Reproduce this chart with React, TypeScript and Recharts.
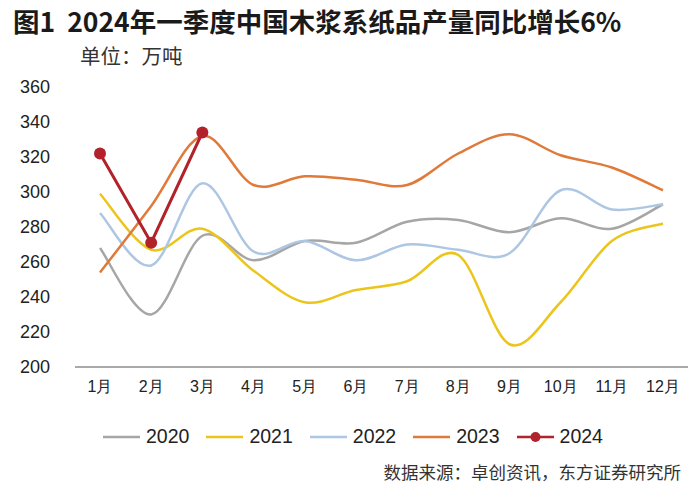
import React from 'react';
import { LineChart, Line, XAxis, YAxis } from 'recharts';

const months = ['1月', '2月', '3月', '4月', '5月', '6月', '7月', '8月', '9月', '10月', '11月', '12月'];
const y2020 = [268, 230, 275, 261, 272, 271, 283, 284, 277, 285, 279, 293];
const y2021 = [299, 267, 279, 255, 237, 244, 249, 264, 213, 237, 272, 282];
const y2022 = [288, 258, 305, 266, 272, 261, 270, 267, 265, 301, 290, 293];
const y2023 = [254, 292, 332, 304, 309, 307, 304, 322, 333, 321, 314, 301];
const y2024 = [322, 271, 334];
const yTicks = [200, 220, 240, 260, 280, 300, 320, 340, 360];

const series = [
  { key: '2020', values: y2020, color: '#a6a6a6' },
  { key: '2021', values: y2021, color: '#ecc51c' },
  { key: '2022', values: y2022, color: '#adc6e3' },
  { key: '2023', values: y2023, color: '#df7a3a' },
  { key: '2024', values: y2024, color: '#b2222b' },
];

const data = months.map((m, i) => {
  const row: Record<string, any> = { month: m };
  series.forEach((s) => {
    row[s.key] = s.values[i];
  });
  return row;
});

// Excel-like smoothing (uniform Catmull-Rom)
const smoothCurve = (context: any) => {
  let pts: number[][] = [];
  return {
    areaStart() {},
    areaEnd() {},
    lineStart() {
      pts = [];
    },
    point(x: number, y: number) {
      pts.push([+x, +y]);
    },
    lineEnd() {
      const n = pts.length;
      if (!n) return;
      context.moveTo(pts[0][0], pts[0][1]);
      for (let i = 0; i < n - 1; i++) {
        const p0 = pts[i - 1] || pts[i];
        const p1 = pts[i];
        const p2 = pts[i + 1];
        const p3 = pts[i + 2] || p2;
        context.bezierCurveTo(
          p1[0] + (p2[0] - p0[0]) / 6,
          p1[1] + (p2[1] - p0[1]) / 6,
          p2[0] - (p3[0] - p1[0]) / 6,
          p2[1] - (p3[1] - p1[1]) / 6,
          p2[0],
          p2[1]
        );
      }
    },
  };
};

const font = '"Liberation Sans", Arial, sans-serif';
const cjk = '"Noto Sans CJK SC", "Noto Sans", sans-serif';

export default function App() {
  return (
    <div style={{ position: 'absolute', left: 0, top: 0, width: 700, height: 497, background: '#fff', overflow: 'hidden' }}>
      <div style={{ position: 'absolute', left: 13, top: 3, lineHeight: '36px', fontFamily: cjk, fontWeight: 700, fontSize: 26.5, color: '#1a1a1a', whiteSpace: 'nowrap' }}>
        图1&nbsp;&nbsp;2024年一季度中国木浆系纸品产量同比增长6%
      </div>
      <div style={{ position: 'absolute', left: 80, top: 41, lineHeight: '28px', fontFamily: cjk, fontSize: 20.5, color: '#333', whiteSpace: 'nowrap' }}>
        单位：万吨
      </div>
      <div style={{ position: 'absolute', right: 19, top: 459, fontFamily: cjk, fontSize: 17.5, color: '#333', whiteSpace: 'nowrap' }}>
        数据来源：卓创资讯，东方证券研究所
      </div>
      <div style={{ position: 'absolute', left: 103, top: 425, display: 'flex', gap: 17, fontFamily: font, fontSize: 19.5, color: '#222' }}>
        {series.map((s) => (
          <div key={s.key} style={{ display: 'flex', alignItems: 'center' }}>
            <svg width={37} height={14} style={{ marginRight: 6 }}>
              <line x1={0} y1={7} x2={37} y2={7} stroke={s.color} strokeWidth={2.5} />
              {s.key === '2024' && <circle cx={18.5} cy={7} r={5} fill={s.color} />}
            </svg>
            <span>{s.key}</span>
          </div>
        ))}
      </div>
      <div style={{ position: 'absolute', left: 0, top: 0 }}>
        <LineChart width={700} height={497} data={data} margin={{ top: 87, right: 12, bottom: 100, left: 0 }}>
          <XAxis
            dataKey="month"
            height={30}
            padding={{ left: 25, right: 25 }}
            tickLine={false}
            tickSize={0}
            tickMargin={14}
            axisLine={{ stroke: '#8c8c8c', strokeWidth: 1.5 }}
            tick={{ fill: '#222', fontSize: 16, fontFamily: font }}
            interval={0}
          />
          <YAxis
            width={75}
            domain={[200, 360]}
            ticks={yTicks}
            axisLine={false}
            tickLine={false}
            tickSize={0}
            tickMargin={25}
            tick={{ fill: '#222', fontSize: 18, fontFamily: font }}
            interval={0}
          />
          {series.slice(0, 4).map((s) => (
            <Line
              key={s.key}
              dataKey={s.key}
              type={smoothCurve as any}
              stroke={s.color}
              strokeWidth={2.5}
              dot={false}
              activeDot={false}
              isAnimationActive={false}
            />
          ))}
          <Line
            dataKey="2024"
            type="linear"
            stroke="#b2222b"
            strokeWidth={3}
            dot={{ r: 6, fill: '#b2222b', stroke: '#b2222b', strokeWidth: 0 }}
            activeDot={false}
            isAnimationActive={false}
          />
        </LineChart>
      </div>
    </div>
  );
}
